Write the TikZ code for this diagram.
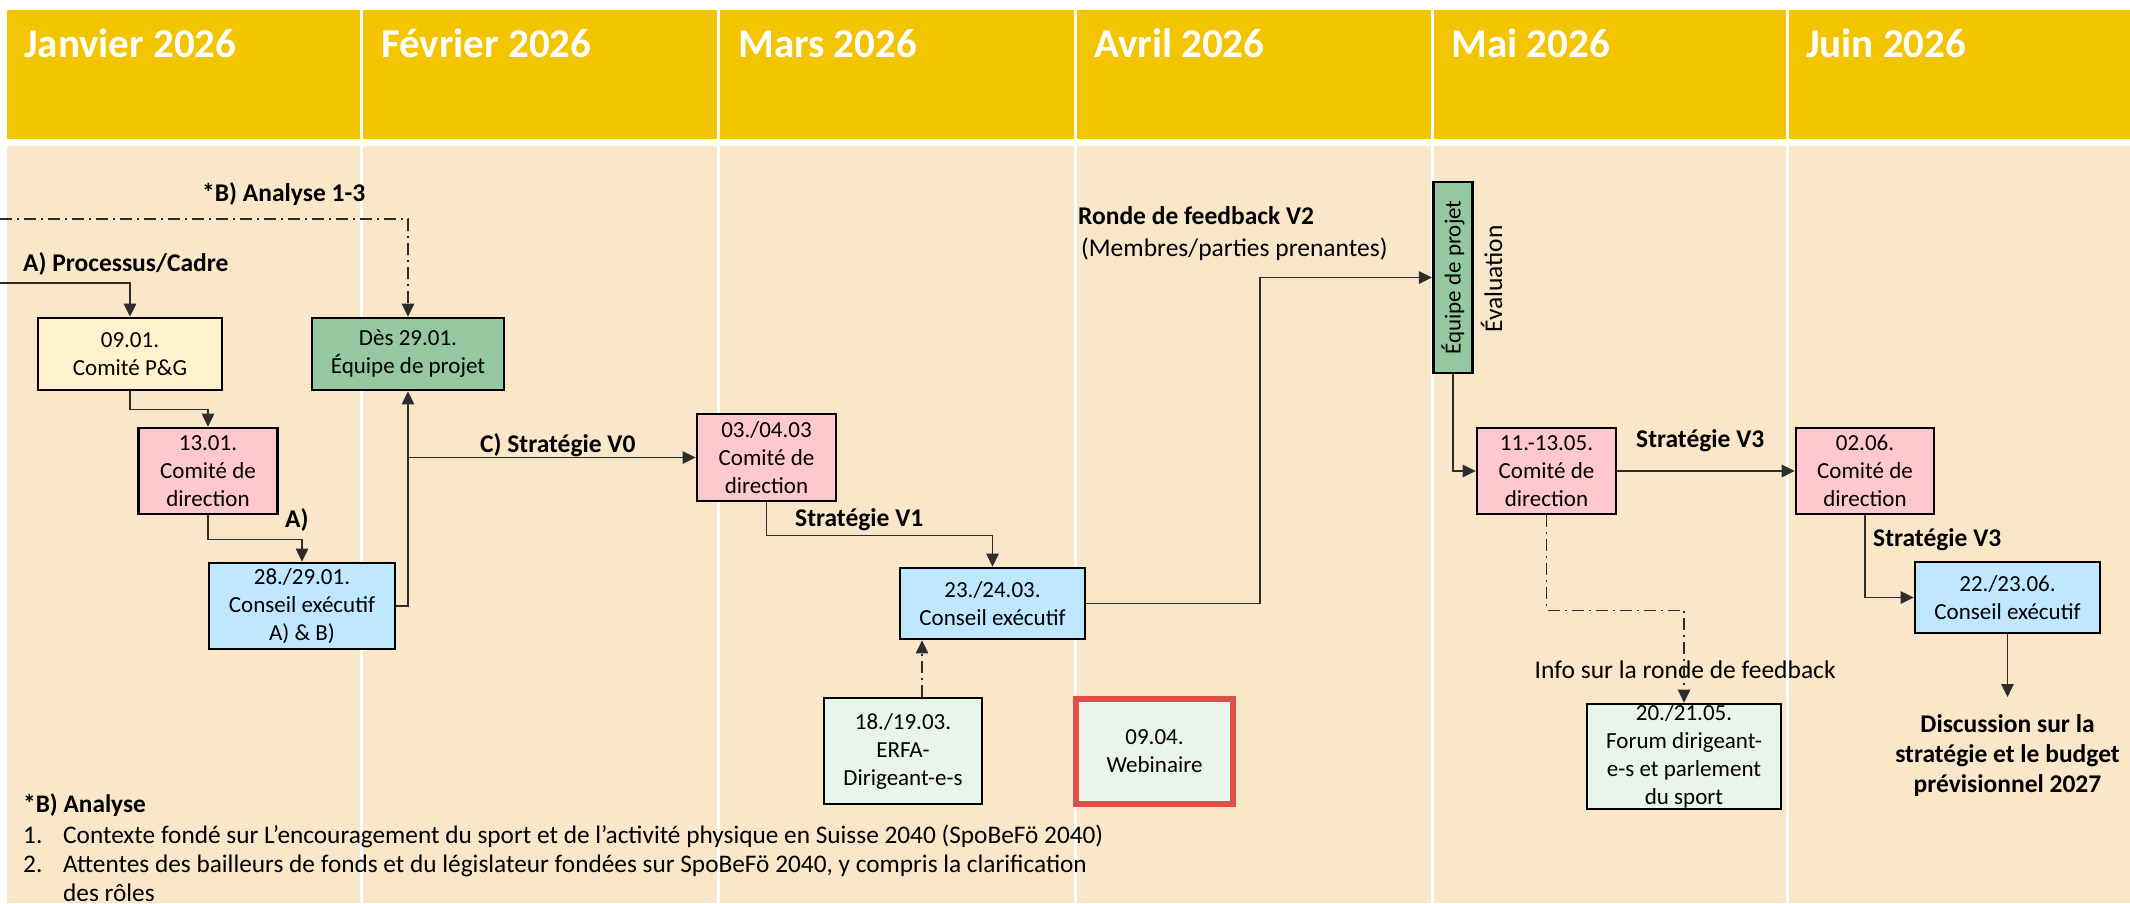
\documentclass[tikz,border=0pt]{standalone}
\usepackage{fontspec}
\setmainfont{Carlito}
\usetikzlibrary{arrows.meta,calc}
\definecolor{hdr}{RGB}{242,197,0}
\definecolor{bgc}{RGB}{250,231,201}
\definecolor{pinkb}{RGB}{255,199,206}
\definecolor{yelb}{RGB}{255,242,204}
\definecolor{greenb}{RGB}{149,199,161}
\definecolor{blueb}{RGB}{191,231,255}
\definecolor{paleb}{RGB}{233,244,235}
\definecolor{redb}{RGB}{222,80,72}
\definecolor{conn}{RGB}{45,45,45}
\begin{document}
\begin{tikzpicture}[x=1pt,y=-1pt,
  box/.style={draw=black, line width=2.8pt, align=center, inner sep=0pt, text=black, font=\fontsize{23}{28}\selectfont},
  lbl/.style={inner sep=0pt, anchor=base west, font=\fontsize{25.5}{30}\selectfont\bfseries},
  txt/.style={inner sep=0pt, anchor=base west, font=\fontsize{25.5}{30}\selectfont},
  note/.style={inner sep=0pt, anchor=base west, font=\fontsize{25.3}{29.5}\selectfont},
  month/.style={inner sep=0pt, anchor=base west, text=white, font=\fontsize{41}{48}\selectfont\bfseries},
  arr/.style={draw=conn, line width=1.4pt, -{Triangle[length=13pt,width=12.5pt]}},
  dashdot/.style={dash pattern=on 12pt off 5pt on 2pt off 5pt}
]
\useasboundingbox (0,0) rectangle (2130,903);
\fill[white] (0,0) rectangle (2130,903);
\foreach \a/\b in {7/360,363/717,720/1074,1077/1431,1434/1786,1789/2130}{
  \fill[hdr] (\a,10) rectangle (\b,139);
  \fill[bgc] (\a,146) rectangle (\b,903);
}
% month headers
\node[month] (m1) at (24,57) {Janvier 2026};
\node[month] (m2) at (381,57) {Février 2026};
\node[month] (m3) at (738,57) {Mars 2026};
\node[month] (m4) at (1094,57) {Avril 2026};
\node[month] (m5) at (1451,57) {Mai 2026};
\node[month] (m6) at (1806,57) {Juin 2026};

% boxes
\node[box, fill=yelb, minimum width=184pt, minimum height=72pt] (p1) at (130,354) {09.01.\\Comité P\&G};
\node[box, fill=greenb, minimum width=192pt, minimum height=72pt] (eq1) at (408,354) {Dès 29.01.\\Équipe de projet};
\node[box, fill=pinkb, minimum width=139pt, minimum height=86pt] (cd1) at (208,471) {13.01.\\Comité de\\direction};
\node[box, fill=blueb, minimum width=186pt, minimum height=86pt] (ce1) at (302,606) {28./29.01.\\Conseil exécutif\\A) \& B)};
\node[box, fill=pinkb, minimum width=139pt, minimum height=87pt] (cd2) at (766.5,457.5) {03./04.03\\Comité de\\direction};
\node[box, fill=blueb, minimum width=185pt, minimum height=71pt] (ce2) at (992.5,603.5) {23./24.03.\\Conseil exécutif};
\node[box, fill=paleb, minimum width=158pt, minimum height=106pt] (erfa) at (903,751) {18./19.03.\\ERFA-\\Dirigeant-e-s};
\node[box, fill=paleb, draw=redb, line width=6pt, minimum width=157pt, minimum height=105pt] (web) at (1154.5,751.5) {09.04.\\Webinaire};
\node[box, fill=greenb, minimum width=39.5pt, minimum height=191pt] (eqv) at (1453,277.5) {};
\node[inner sep=0pt, rotate=90, font=\fontsize{23}{28}\selectfont] (eqvt) at (eqv.center) {Équipe de projet};
\node[box, fill=pinkb, minimum width=139pt, minimum height=86pt] (cd3) at (1546.5,471) {11.-13.05.\\Comité de\\direction};
\node[box, fill=pinkb, minimum width=138pt, minimum height=86pt] (cd4) at (1865,471) {02.06.\\Comité de\\direction};
\node[box, fill=blueb, minimum width=185pt, minimum height=71pt] (ce3) at (2007.5,597.5) {22./23.06.\\Conseil exécutif};
\node[box, fill=paleb, minimum width=194pt, minimum height=105pt] (forum) at (1684,756.5) {20./21.05.\\Forum dirigeant-\\e-s et parlement\\du sport};

% labels
\node[lbl] (lb1) at (202,201) {*B) Analyse 1-3};
\node[lbl] (lb2) at (23,271) {A) Processus/Cadre};
\node[lbl] (lb3) at (285,527) {A)};
\node[lbl] (lb4) at (480,452) {C) Stratégie V0};
\node[lbl] (lb5) at (795,526) {Stratégie V1};
\node[lbl] (lb6) at (1078,224) {Ronde de feedback V2};
\node[txt] (lb7) at (1081,256) {(Membres/parties prenantes)};
\node[txt, rotate=90] (lb8) at (1502,333) {Évaluation};
\node[lbl] (lb9) at (1636,447) {Stratégie V3};
\node[lbl] (lb10) at (1873,546) {Stratégie V3};
\node[txt] (lb11) at (1534.5,678) {Info sur la ronde de feedback};
\node[lbl, anchor=north, align=center] (disc) at (2007.5,714) {Discussion sur la\\stratégie et le budget\\prévisionnel 2027};

% notes
\node[note, font=\fontsize{25.3}{29.5}\selectfont\bfseries] (n0) at (23,812) {*B) Analyse};
\node[note] (n1a) at (23,843) {1.};
\node[note] (n1) at (63,843) {Contexte fondé sur L’encouragement du sport et de l’activité physique en Suisse 2040 (SpoBeFö 2040)};
\node[note] (n2a) at (23,872) {2.};
\node[note] (n2) at (63,872) {Attentes des bailleurs de fonds et du législateur fondées sur SpoBeFö 2040, y compris la clarification};
\node[note] (n3) at (63,901) {des rôles};

% connectors
\coordinate (bstart) at (0,219);
\coordinate (astart) at (0,283);
\coordinate (k1) at (1260,277.5);
\draw[arr, dashdot] (bstart) -| (eq1.north);
\draw[arr] (astart) -| (p1.north);
\draw[arr] (p1.south) -- ++(0,18) -| (cd1.north);
\draw[arr] (cd1.south) -- ++(0,24) -| (ce1.north);
\draw[arr] (ce1.east) -| (eq1.south);
\draw[arr] (eq1.south |- cd2.west) -- (cd2.west);
\draw[arr] (cd2.south) -- ++(0,33) -| (ce2.north);
\draw[arr, dashdot] ([xshift=19pt]erfa.north) -- ([xshift=19pt]erfa.north |- ce2.south);
\draw[arr] (ce2.east) -| (k1) -- (eqv.west);
\draw[arr] (eqv.south) |- (cd3.west);
\draw[arr] (cd3.east) -- (cd4.west);
\draw[arr] (cd4.south) |- (ce3.west);
\draw[arr] (ce3.south) -- ([yshift=17pt]disc.north);
\draw[arr, dashdot] (cd3.south) -- ++(0,95) -| (forum.north);
\end{tikzpicture}
\end{document}
